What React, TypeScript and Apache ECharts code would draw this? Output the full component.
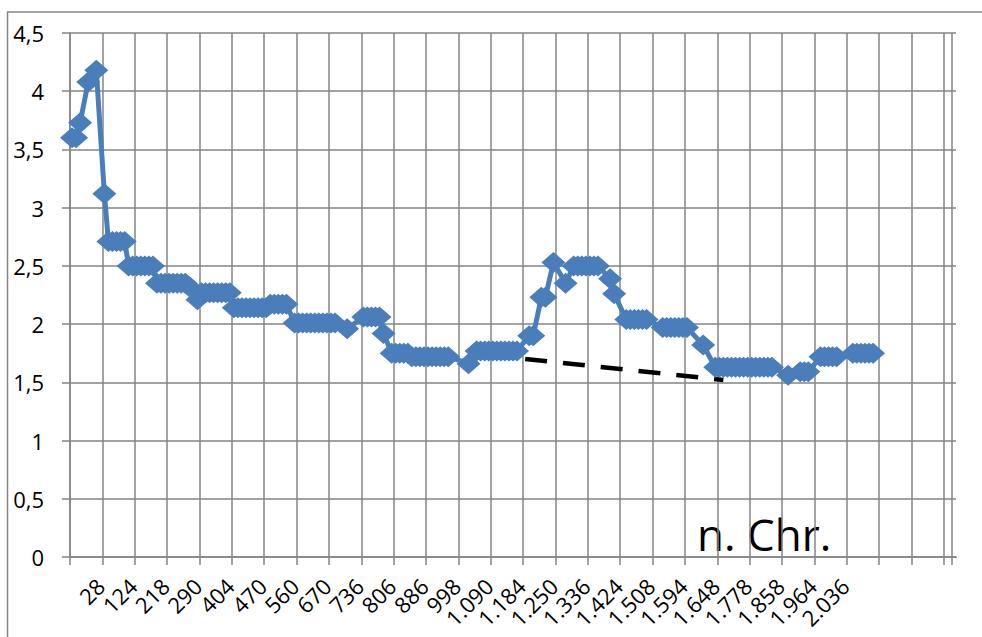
import { useEffect, useRef } from "react";
import * as echarts from "echarts";

// x-axis: tick labels shown every 8 categories (first at category 7)
const tickLabels = [
  "28", "124", "218", "290", "404", "470", "560", "670", "736", "806", "886", "998",
  "1.090", "1.184", "1.250", "1.336", "1.424", "1.508", "1.594", "1.648", "1.778",
  "1.858", "1.964", "2.036",
];
const categoryCount = 219;
const labelStep = 8;
const firstLabelIndex = 7;

// series values per category (null = no point, line connected)
const values: (number | null)[] = [
  3.6, 3.6, 3.73, null, 4.08, null, 4.18, null, 3.12, 2.71,
  2.71, 2.71, 2.71, 2.71, 2.5, 2.5, 2.5, 2.5, 2.5, 2.5,
  2.5, 2.35, 2.35, 2.35, 2.35, 2.35, 2.35, 2.35, 2.35, 2.32,
  null, 2.21, 2.27, 2.27, 2.27, 2.27, 2.27, 2.27, 2.27, 2.27,
  2.14, 2.14, 2.14, 2.14, 2.14, 2.14, 2.14, 2.14, 2.14, 2.17,
  2.17, 2.17, 2.17, 2.17, null, 2.01, 2.01, 2.01, 2.01, 2.01,
  2.01, 2.01, 2.01, 2.01, 2.01, 2.01, null, null, 1.96, null,
  null, null, 2.06, 2.06, 2.06, 2.06, 2.06, 1.92, null, 1.75,
  1.75, 1.75, 1.75, 1.75, 1.72, 1.72, 1.72, 1.72, 1.72, 1.72,
  1.72, 1.72, 1.72, 1.72, null, null, null, null, 1.66, null,
  1.77, 1.77, 1.77, 1.77, 1.77, 1.77, 1.77, 1.77, 1.77, 1.77,
  1.77, null, null, 1.9, 1.9, null, 2.23, 2.23, null, 2.53,
  null, null, 2.35, null, 2.5, 2.5, 2.5, 2.5, 2.5, 2.5,
  2.5, null, null, 2.39, 2.26, null, null, 2.04, 2.04, 2.04,
  2.04, 2.04, 2.04, null, null, null, 1.97, 1.97, 1.97, 1.97,
  1.97, 1.97, 1.97, null, null, null, 1.82, null, null, 1.63,
  1.63, 1.63, 1.63, 1.63, 1.63, 1.63, 1.63, 1.63, 1.63, 1.63,
  1.63, 1.63, 1.63, 1.63, null, null, null, 1.56, null, null,
  1.59, 1.59, 1.59, null, null, 1.72, 1.72, 1.72, 1.72, 1.72,
  null, null, null, 1.75, 1.75, 1.75, 1.75, 1.75, 1.75,
];

// dashed trend line: start/end category and value
const trendIndices = [112, 161];
const trendValues = [1.7, 1.52];

const yMin = 0;
const yMax = 4.5;
const yStep = 0.5;
const annotation = "n. Chr.";

export default function App() {
  const ref = useRef<HTMLDivElement>(null);

  useEffect(() => {
    if (!ref.current) return;
    const chart = echarts.init(ref.current, undefined, { renderer: "svg" });

    const categories: string[] = [];
    for (let i = 0; i < categoryCount; i++) {
      const k = (i - firstLabelIndex) / labelStep;
      categories.push(
        i >= firstLabelIndex && Number.isInteger(k) && k < tickLabels.length ? tickLabels[k] : ""
      );
    }
    const trendData: (number | null)[] = categories.map(() => null);
    trendIndices.forEach((idx, j) => {
      trendData[idx] = trendValues[j];
    });

    const grey = "#858585";
    const font = "'Open Sans', 'Noto Sans', sans-serif";

    chart.setOption({
      animation: false,
      grid: { left: 70, right: 26, top: 33, bottom: 80, outerBoundsMode: "none" },
      xAxis: {
        type: "category",
        data: categories,
        boundaryGap: true,
        axisLine: { show: true, lineStyle: { color: grey, width: 1.5 } },
        axisTick: { show: true, interval: labelStep - 1, length: 8, lineStyle: { color: grey, width: 1.5 } },
        axisLabel: {
          interval: 0,
          rotate: 45,
          margin: 25,
          fontSize: 22,
          fontFamily: font,
          color: "#000",
        },
        splitLine: {
          show: true,
          interval: labelStep - 1,
          showMaxLine: false,
          lineStyle: { color: grey, width: 1.5 },
        },
      },
      yAxis: {
        type: "value",
        min: yMin,
        max: yMax,
        interval: yStep,
        axisLine: { show: true, lineStyle: { color: grey, width: 1.5 } },
        axisTick: { show: true, length: 8, lineStyle: { color: grey, width: 1.5 } },
        axisLabel: {
          margin: 26,
          fontSize: 22,
          fontFamily: font,
          color: "#000",
          formatter: (v: number) => String(v).replace(".", ","),
        },
        splitLine: { show: true, lineStyle: { color: grey, width: 1.5 } },
      },
      series: [
        {
          type: "line",
          data: trendData,
          connectNulls: true,
          symbol: "none",
          z: 2,
          lineStyle: { color: "#000", width: 4.5, type: [22, 16], cap: "butt" },
        },
        {
          type: "line",
          data: values,
          connectNulls: true,
          symbol: "diamond",
          symbolSize: [24, 21],
          z: 3,
          itemStyle: { color: "#4A7EBB" },
          lineStyle: { color: "#4A7EBB", width: 5 },
        },
      ],
      graphic: [
        {
          type: "rect",
          silent: true,
          shape: { x: 7.5, y: 12, width: 1200, height: 1000 },
          style: { fill: "none", stroke: grey, lineWidth: 1.5 },
        },
        {
          type: "rect",
          silent: true,
          z: 100,
          shape: { x: 954.5, y: 558.2, width: 4, height: 10 },
          style: { fill: "#fff" },
        },
        {
          type: "text",
          silent: true,
          x: 697,
          y: 534,
          style: {
            text: annotation,
            font: "44px 'Open Sans', 'Noto Sans', sans-serif",
            fill: "#000",
            verticalAlign: "middle",
            align: "left",
          },
        },
      ],
    });

    return () => chart.dispose();
  }, []);

  return (
    <div
      ref={ref}
      style={{ position: "absolute", left: 0, top: 0, width: 982, height: 637 }}
    />
  );
}
